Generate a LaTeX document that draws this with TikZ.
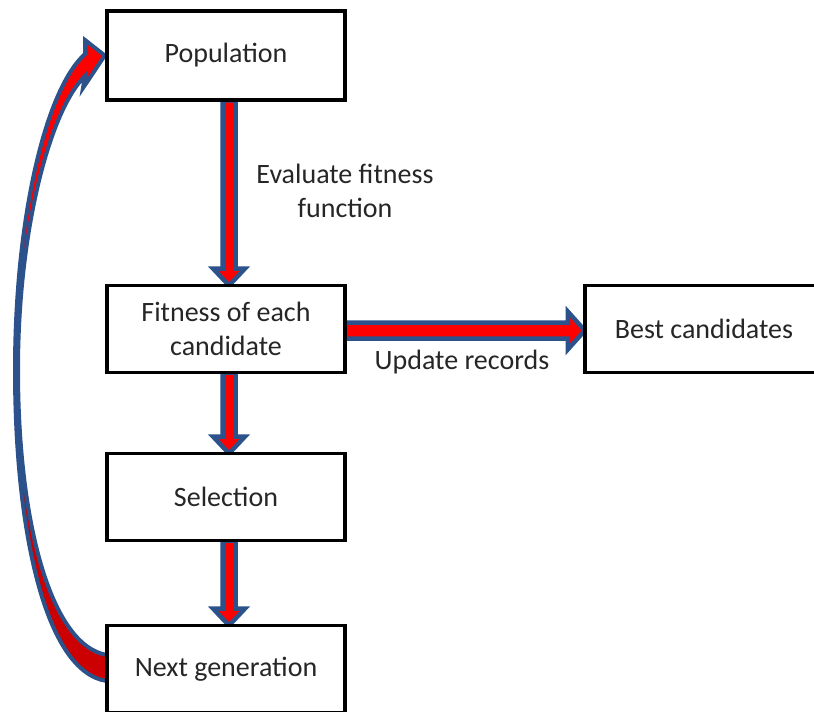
\documentclass[tikz,border=0pt]{standalone}
\usepackage{fontspec}
\setmainfont{Carlito}
\usetikzlibrary{calc,backgrounds}
\definecolor{arrblue}{RGB}{44,82,140}
\definecolor{arrred}{RGB}{255,0,0}
\definecolor{arrdark}{RGB}{204,0,0}
\definecolor{txt}{RGB}{38,38,38}
\tikzset{
  box/.style={draw=black, line width=3.8pt, fill=white, minimum width=238.5pt,
    minimum height=87pt, inner sep=0pt, outer sep=0pt, align=center, text=txt,
    font=\fontsize{28}{34}\selectfont},
  lbl/.style={align=center, text=txt, font=\fontsize{28}{34}\selectfont, inner sep=0pt},
  barrow/.style={fill=arrred, draw=arrblue, line width=4.5pt, line join=miter},
}
\newcommand\vblockarrow[2]{%
  \filldraw[barrow]
    ($(#1.south)+(-3.5,0)$) -- ($(#2.north)+(-3.5,-17)$) -- ($(#2.north)+(-13,-17)$) --
    ($(#2.north)+(3,0)$) -- ($(#2.north)+(19,-17)$) -- ($(#2.north)+(9.5,-17)$) --
    ($(#1.south)+(9.5,0)$) -- cycle;}
\begin{document}
\begin{tikzpicture}[x=1pt,y=-1pt]
\useasboundingbox (0,0) rectangle (814,712);
\node[box, minimum height=89.5pt] (pop) at (226,55.5) {Population};
\node[box] (fit) at (226,329) {Fitness of each\\candidate};
\node[box] (bst) at (704,329) {Best candidates};
\node[box] (sel) at (226,497) {Selection};
\node[box] (nxt) at (226,669) {Next generation};
\node[lbl] (eval) at (345,191) {Evaluate fitness\\function};
\node[lbl] (upd) at (462,362) {Update records};
\begin{scope}[on background layer]
  \vblockarrow{pop}{fit}
  \vblockarrow{fit}{sel}
  \vblockarrow{sel}{nxt}
  \filldraw[barrow]
    ($(fit.east)+(0,-6.5)$) -- ($(bst.west)+(-17,-6.5)$) -- ($(bst.west)+(-17,-17.5)$) --
    ($(bst.west)+(0,1.5)$) -- ($(bst.west)+(-17,20.5)$) -- ($(bst.west)+(-17,9.5)$) --
    ($(fit.east)+(0,9.5)$) -- cycle;
  \coordinate (b1) at ($(nxt.west)+(0,12)$);
  \coordinate (b2) at ($(nxt.west)+(0,-14)$);
  \coordinate (tp) at ($(pop.west)+(-2,0)$);
  \fill[arrred] (b1) .. controls (45,672) and (15,530) .. (15,370)
    .. controls (15,220) and (45,90) .. (85,54) -- (85,40) -- (tp) -- (83,88) -- (85,76)
    .. controls (50,110) and (18,230) .. (18,370)
    .. controls (18,520) and (50,645) .. (b2) -- cycle;
  \fill[arrdark] (b1) .. controls (45,672) and (15,530) .. (15,370) -- (18,370)
    .. controls (18,520) and (50,645) .. (b2) -- cycle;
  \draw[arrblue, line width=4pt, line join=miter] (b1) .. controls (45,672) and (15,530) .. (15,370)
    .. controls (15,220) and (45,90) .. (85,54) -- (85,40) -- (tp) -- (83,88) -- (85,76)
    .. controls (50,110) and (18,230) .. (18,370)
    .. controls (18,520) and (50,645) .. (b2);
\end{scope}
\end{tikzpicture}
\end{document}
